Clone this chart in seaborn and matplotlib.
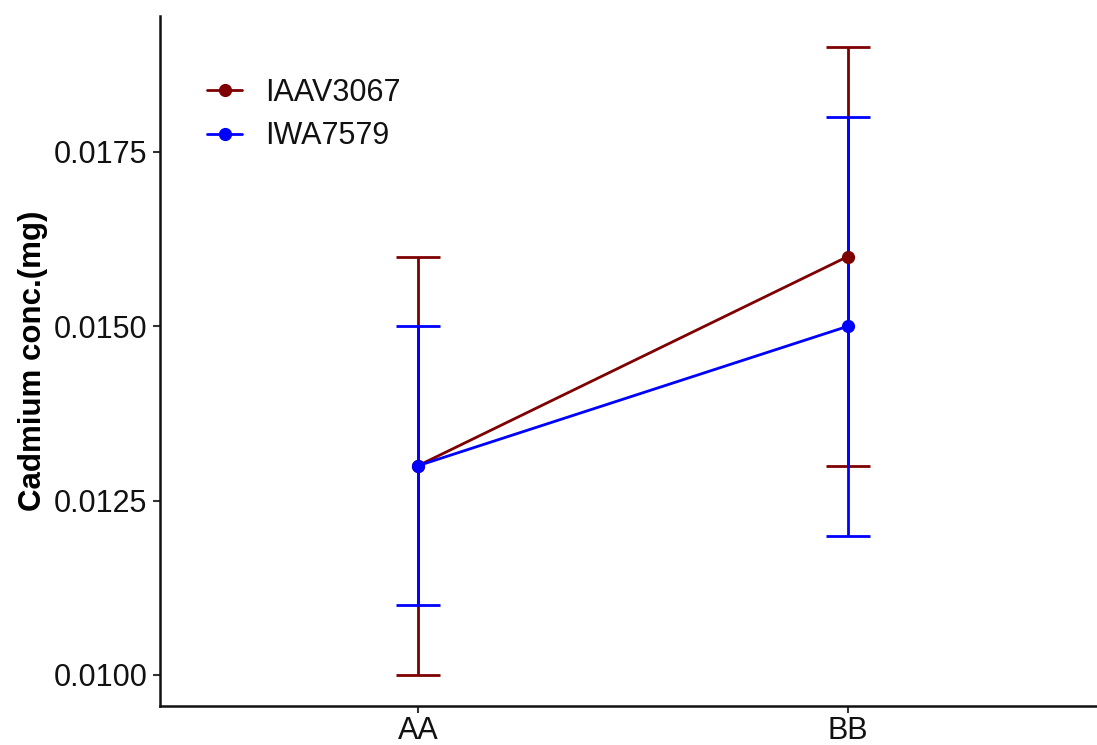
import matplotlib
matplotlib.use("Agg")
import matplotlib.pyplot as plt
import seaborn as sns
import pandas as pd
import numpy as np

categories = ["AA", "BB"]
series = ["IAAV3067", "IWA7579"]
means_iaav = [0.013, 0.016]
lo_iaav = [0.010, 0.013]
hi_iaav = [0.016, 0.019]
means_iwa = [0.013, 0.015]
lo_iwa = [0.011, 0.012]
hi_iwa = [0.015, 0.018]
yticks = [0.0100, 0.0125, 0.0150, 0.0175]
ytick_labels = ["0.0100", "0.0125", "0.0150", "0.0175"]
colors = {"IAAV3067": "#7f0000", "IWA7579": "#0000ff"}

sns.set_theme(style="ticks")
plt.rcParams['font.family'] = ['Liberation Sans', 'DejaVu Sans']

df = pd.DataFrame({
    "genotype": categories * 2,
    "variety": [series[0]] * 2 + [series[1]] * 2,
    "mean": means_iaav + means_iwa,
    "lo": lo_iaav + lo_iwa,
    "hi": hi_iaav + hi_iwa,
})

fig = plt.figure(figsize=(10.97, 7.45), dpi=100)
ax = fig.add_axes([160/1097, 39/745, 1 - 160/1097, (706-16)/745])

# error bars
for v in series:
    sub = df[df.variety == v]
    x = np.arange(len(categories))
    ax.errorbar(x, sub["mean"].values,
                yerr=[sub["mean"].values - sub["lo"].values, sub["hi"].values - sub["mean"].values],
                fmt="none", ecolor=colors[v], elinewidth=2, capsize=15.5, capthick=2, zorder=2)

sns.pointplot(data=df, x="genotype", y="mean", hue="variety", order=categories,
              hue_order=series, palette=colors, errorbar=None, ax=ax,
              markersize=8, linewidth=2, zorder=3)

ax.set_xlim(-0.6, 1.58)
ax.set_ylim(0.009555, 0.01945)
ax.set_yticks(yticks)
ax.set_yticklabels(ytick_labels)
ax.set_xlabel("")
ax.set_ylabel("Cadmium conc.(mg)", fontsize=22.5, fontweight="bold", labelpad=4, color="black")
ax.tick_params(axis="both", labelsize=22, length=5, width=1.5, color="#333333", labelcolor="#111111", pad=4)
ax.tick_params(axis="x", pad=2)
for s in ["top", "right"]:
    ax.spines[s].set_visible(False)
for s in ["left", "bottom"]:
    ax.spines[s].set_linewidth(1.8)
    ax.spines[s].set_color("#111111")

leg = ax.legend(title=None, loc="upper left", bbox_to_anchor=(0.021, 0.95), frameon=False,
                fontsize=22, handlelength=1.15, handletextpad=0.75, labelspacing=0.44)
for t in leg.get_texts():
    t.set_color("#111111")

fig.savefig("out.png", dpi=100)
